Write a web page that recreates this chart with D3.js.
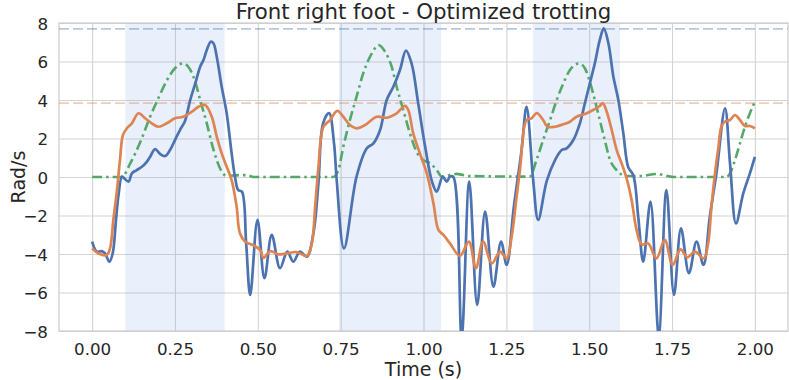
<!DOCTYPE html>
<html>
<head>
<meta charset="utf-8">
<script src="https://cdn.jsdelivr.net/npm/d3@7"></script>
<style>
  html, body { margin: 0; padding: 0; background: #fff; }
  svg { display: block; }
  text { font-family: "DejaVu Sans", sans-serif; fill: #262626; }
</style>
</head>
<body>
<svg id="chart" width="789" height="380"></svg>
<script>
// ---- data ----
const titleText = "Front right foot - Optimized trotting";
const xLabel = "Time (s)";
const yLabel = "Rad/s";
const xTicks = [0, 0.25, 0.5, 0.75, 1.0, 1.25, 1.5, 1.75, 2.0];
const yTicks = [-8, -6, -4, -2, 0, 2, 4, 6, 8];

// stance / shaded phases [start, end] in seconds
const phaseStart = [0.10, 0.745, 1.33];
const phaseEnd   = [0.40, 1.053, 1.593];

// reference maxima (dashed lines)
const blueMax = 7.7;
const orangeMax = 3.84;

// blue series
const blueT = [0.000,0.014,0.029,0.039,0.052,0.062,0.072,0.079,0.090,0.097,0.110,0.120,0.135,0.150,0.165,0.175,0.190,0.205,0.220,0.235,0.250,0.265,0.280,0.296,0.311,0.326,0.336,0.346,0.358,0.366,0.376,0.391,0.406,0.421,0.431,0.441,0.452,0.465,0.477,0.499,0.520,0.542,0.567,0.589,0.607,0.627,0.648,0.668,0.683,0.697,0.715,0.730,0.738,0.760,0.798,0.829,0.849,0.869,0.889,0.909,0.929,0.947,0.964,0.984,1.005,1.025,1.040,1.058,1.070,1.080,1.090,1.115,1.138,1.162,1.186,1.211,1.234,1.251,1.273,1.296,1.311,1.331,1.346,1.372,1.397,1.417,1.432,1.452,1.472,1.487,1.502,1.517,1.532,1.544,1.558,1.573,1.588,1.603,1.618,1.633,1.648,1.663,1.685,1.710,1.733,1.756,1.777,1.801,1.824,1.845,1.864,1.884,1.910,1.925,1.943,1.965,1.985,2.000];
const blueV = [-3.36,-3.88,-3.85,-3.97,-4.40,-3.97,-2.23,-1.02,0.02,-0.07,-0.24,0.19,0.36,0.53,0.79,1.05,1.45,1.20,1.09,1.40,1.92,2.44,2.90,4.00,4.85,5.73,6.08,6.60,7.03,6.95,6.25,4.69,3.31,1.23,0.02,-0.68,-0.76,-3.50,-6.13,-2.23,-5.26,-3.01,-4.74,-3.88,-4.40,-3.88,-4.14,-2.90,-0.30,2.79,3.32,1.75,-0.15,-3.71,0.02,1.49,1.75,2.44,4.00,4.69,5.56,6.56,5.90,3.83,1.57,-0.20,-0.76,0.02,-0.24,0.02,0.00,-8.30,-0.24,-6.65,-1.80,-5.70,-3.36,-4.57,-1.50,1.40,3.65,-0.16,-2.23,-0.20,0.88,1.40,1.49,1.92,2.79,3.83,4.87,5.90,7.12,7.72,6.95,5.21,4.00,2.27,0.50,0.10,-2.06,-4.40,-1.28,-8.20,-0.68,-6.13,-2.67,-5.00,-3.36,-4.57,-2.06,0.19,3.57,0.71,-2.41,-0.85,0.19,1.05];

// orange series
const orangeT = [0.000,0.019,0.044,0.054,0.064,0.075,0.084,0.093,0.105,0.120,0.140,0.160,0.180,0.200,0.225,0.250,0.275,0.301,0.321,0.341,0.361,0.376,0.391,0.406,0.421,0.436,0.446,0.462,0.487,0.507,0.517,0.537,0.562,0.587,0.617,0.648,0.663,0.673,0.683,0.698,0.718,0.740,0.758,0.778,0.798,0.824,0.859,0.889,0.919,0.944,0.954,0.969,0.989,1.010,1.030,1.045,1.060,1.080,1.110,1.137,1.158,1.180,1.206,1.231,1.251,1.266,1.281,1.291,1.311,1.326,1.342,1.361,1.374,1.397,1.422,1.442,1.462,1.487,1.512,1.532,1.541,1.553,1.568,1.583,1.598,1.613,1.628,1.643,1.658,1.678,1.703,1.728,1.752,1.776,1.796,1.819,1.846,1.859,1.869,1.882,1.889,1.899,1.909,1.925,1.940,1.955,1.970,1.985,2.000];
const orangeV = [-3.71,-3.97,-4.05,-3.71,-2.23,-0.68,0.88,2.18,2.53,2.79,3.31,3.05,2.79,2.61,2.79,3.05,3.13,3.39,3.65,3.74,3.13,2.10,1.23,0.53,-0.16,-1.54,-2.92,-3.36,-3.55,-3.79,-4.20,-3.85,-4.02,-3.97,-3.90,-4.10,-3.45,-1.54,0.53,2.61,2.96,3.44,3.13,2.70,2.53,2.70,3.13,3.08,3.31,3.69,3.48,2.27,1.23,0.19,-1.37,-2.75,-3.01,-3.45,-4.10,-3.36,-4.74,-3.36,-4.49,-3.88,-4.23,-3.10,-1.02,0.36,2.96,3.05,3.32,2.96,2.61,2.61,2.74,2.87,3.13,3.27,3.48,3.69,3.84,3.39,2.44,1.40,0.70,-0.07,-1.19,-2.75,-3.50,-3.45,-4.23,-3.27,-4.57,-3.76,-4.17,-3.88,-4.23,-3.45,-1.54,0.53,1.40,2.61,2.87,2.96,3.22,2.96,2.65,2.65,2.53];

// green series (dash-dot)
const greenT = [0.000,0.090,0.115,0.145,0.175,0.200,0.225,0.250,0.274,0.290,0.311,0.326,0.346,0.361,0.376,0.391,0.406,0.446,0.467,0.487,0.728,0.743,0.758,0.778,0.798,0.818,0.844,0.864,0.884,0.904,0.919,0.939,0.959,0.979,0.999,1.020,1.040,1.055,1.080,1.100,1.120,1.135,1.321,1.341,1.361,1.382,1.402,1.422,1.442,1.470,1.487,1.502,1.517,1.532,1.547,1.563,1.578,1.593,1.608,1.653,1.703,1.754,1.915,1.925,1.940,1.955,1.970,1.985,2.000];
const greenV = [0.00,0.00,0.71,1.80,3.13,4.10,5.00,5.65,5.90,5.73,4.95,4.00,2.79,1.75,0.88,0.28,0.05,0.10,0.10,0.00,0.00,0.36,1.57,2.96,4.17,5.38,6.42,6.86,6.51,5.73,4.69,3.48,2.27,1.31,0.88,0.71,0.36,0.02,0.10,0.16,0.10,0.05,0.02,0.88,1.92,2.96,4.00,4.87,5.56,5.90,5.65,4.95,4.00,2.96,1.92,0.88,0.45,0.19,0.05,0.05,0.16,0.00,0.00,0.19,0.88,1.75,2.61,3.31,3.91];

// ---- layout ----
const W = 789, H = 380;
const plot = { left: 59, right: 788, top: 23, bottom: 331 };
const colors = { blue: "#4c72b0", orange: "#dd8452", green: "#55a868" };

const svg = d3.select("#chart");
const x = d3.scaleLinear().domain([-0.1, 2.1]).range([plot.left, plot.right]);
const y = d3.scaleLinear().domain([-8, 8]).range([plot.bottom, plot.top]);

svg.append("defs").append("clipPath").attr("id", "clip")
  .append("rect").attr("x", plot.left).attr("y", plot.top)
  .attr("width", plot.right - plot.left).attr("height", plot.bottom - plot.top);

// grid
const gx = svg.append("g").attr("transform", `translate(0,${plot.bottom})`)
  .call(d3.axisBottom(x).tickValues(xTicks).tickFormat(d3.format(".2f"))
        .tickSize(-(plot.bottom - plot.top)).tickPadding(12));
const gy = svg.append("g").attr("transform", `translate(${plot.left},0)`)
  .call(d3.axisLeft(y).tickValues(yTicks).tickFormat(d3.format("d"))
        .tickSize(-(plot.right - plot.left)).tickPadding(11));
[gx, gy].forEach(g => {
  g.select(".domain").remove();
  g.selectAll(".tick line").attr("stroke", "#d4d4d4").attr("stroke-width", 1.1);
  g.selectAll(".tick text").attr("fill", "#262626")
    .style("font-size", "16.7px").style("font-family", "DejaVu Sans, sans-serif");
});
gy.selectAll(".tick text").attr("dy", "0.36em");

// shaded phases
svg.append("g").selectAll("rect").data(phaseStart).join("rect")
  .attr("x", d => x(d)).attr("y", plot.top)
  .attr("width", (d, i) => x(phaseEnd[i]) - x(d))
  .attr("height", plot.bottom - plot.top)
  .attr("fill", "rgb(100,149,237)").attr("fill-opacity", 0.14);

// frame
svg.append("rect").attr("x", plot.left).attr("y", plot.top)
  .attr("width", plot.right - plot.left).attr("height", plot.bottom - plot.top)
  .attr("fill", "none").attr("stroke", "#cccccc").attr("stroke-width", 1.2);

const lines = svg.append("g").attr("clip-path", "url(#clip)");

// reference max dashed lines
[[blueMax, colors.blue], [orangeMax, colors.orange]].forEach(([v, c]) => {
  lines.append("line").attr("x1", plot.left).attr("x2", plot.right)
    .attr("y1", y(v)).attr("y2", y(v))
    .attr("stroke", c).attr("stroke-opacity", 0.4)
    .attr("stroke-width", 1.8).attr("stroke-dasharray", "10,4");
});

const smoothGen = d3.line().x(d => x(d[0])).y(d => y(d[1])).curve(d3.curveCatmullRom.alpha(0.5));
const monoGen = d3.line().x(d => x(d[0])).y(d => y(d[1])).curve(d3.curveMonotoneX);
function series(T, V) { return T.map((t, i) => [t, V[i]]); }

lines.append("path").datum(series(greenT, greenV))
  .attr("d", monoGen).attr("fill", "none").attr("stroke", colors.green)
  .attr("stroke-width", 2.6).attr("stroke-dasharray", "10,4,2.5,4");
lines.append("path").datum(series(blueT, blueV))
  .attr("d", smoothGen).attr("fill", "none").attr("stroke", colors.blue)
  .attr("stroke-width", 2.7).attr("stroke-linejoin", "round");
lines.append("path").datum(series(orangeT, orangeV))
  .attr("d", smoothGen).attr("fill", "none").attr("stroke", colors.orange)
  .attr("stroke-width", 2.7).attr("stroke-linejoin", "round");

// labels
svg.append("text").attr("x", (plot.left + plot.right) / 2).attr("y", 18.5)
  .attr("text-anchor", "middle").style("font-size", "21.3px").text(titleText);
svg.append("text").attr("x", (plot.left + plot.right) / 2).attr("y", 376)
  .attr("text-anchor", "middle").style("font-size", "19px").text(xLabel);
svg.append("text").attr("transform", `translate(25,${(plot.top + plot.bottom) / 2}) rotate(-90)`)
  .attr("text-anchor", "middle").style("font-size", "19px").text(yLabel);
</script>
</body>
</html>
